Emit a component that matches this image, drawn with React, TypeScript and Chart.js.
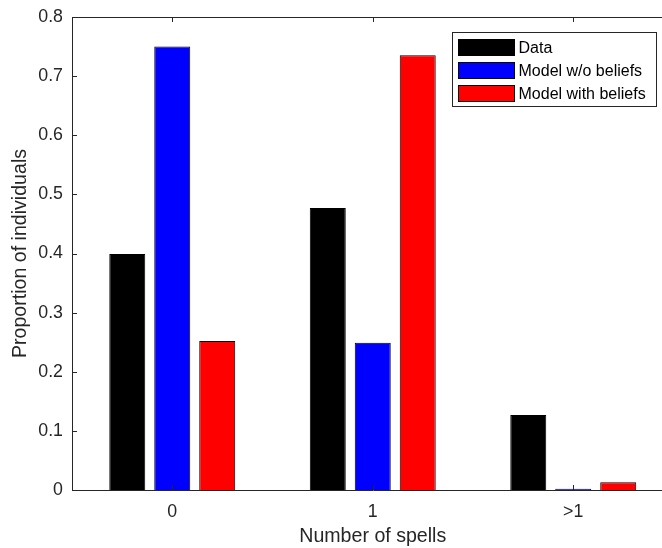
import React, { useEffect, useRef } from "react";
import { Chart, registerables } from "chart.js";

Chart.register(...registerables);

const categories = ["0", "1", ">1"];
const dataValues = [0.399, 0.477, 0.127];
const modelWithoutBeliefs = [0.75, 0.249, 0.002];
const modelWithBeliefs = [0.252, 0.7355, 0.013];
const seriesLabels = ["Data", "Model w/o beliefs", "Model with beliefs"];
const seriesColors = ["#000000", "#0000ff", "#ff0000"];
const yTicks = [0, 0.1, 0.2, 0.3, 0.4, 0.5, 0.6, 0.7, 0.8];

const AXIS = "#262626";
const FONT = "'Liberation Sans', Arial, Helvetica, sans-serif";

const boxPlugin = {
  id: "matlabBox",
  afterDatasetsDraw(chart: any) {
    const { ctx, chartArea, scales } = chart;
    const { left, right, top, bottom } = chartArea;
    ctx.save();
    ctx.strokeStyle = AXIS;
    ctx.lineWidth = 1;
    // box
    ctx.beginPath();
    ctx.rect(Math.round(left) + 0.5, Math.round(top) + 0.5, Math.round(right - left), Math.round(bottom - top));
    ctx.stroke();
    // inward ticks
    const tl = 5;
    ctx.beginPath();
    yTicks.forEach((v) => {
      const y = Math.round(scales.y.getPixelForValue(v)) + 0.5;
      ctx.moveTo(left, y);
      ctx.lineTo(left + tl, y);
      ctx.moveTo(right, y);
      ctx.lineTo(right - tl, y);
    });
    categories.forEach((_, i) => {
      const x = Math.round(scales.x.getPixelForValue(i)) + 0.5;
      ctx.moveTo(x, bottom);
      ctx.lineTo(x, bottom - tl);
      ctx.moveTo(x, top);
      ctx.lineTo(x, top + tl);
    });
    ctx.stroke();

    // legend
    const bx = Math.round(right - 221.5) + 0.5;
    const by = Math.round(top + 15) + 0.5;
    const bw = 204;
    const bh = 74;
    ctx.fillStyle = "#ffffff";
    ctx.fillRect(bx, by, bw, bh);
    ctx.strokeStyle = AXIS;
    ctx.strokeRect(bx, by, bw, bh);
    ctx.font = `16px ${FONT}`;
    ctx.textBaseline = "middle";
    ctx.textAlign = "left";
    chart.data.datasets.forEach((ds: any, i: number) => {
      const cy = by + 15 + i * 23;
      ctx.fillStyle = ds.backgroundColor;
      ctx.fillRect(bx + 6, cy - 8, 56, 16);
      ctx.strokeStyle = "#000000";
      ctx.strokeRect(bx + 6, cy - 8, 56, 16);
      ctx.fillStyle = "#000000";
      ctx.fillText(ds.label, bx + 66, cy + 1);
    });
    ctx.restore();
  },
};

export default function App() {
  const ref = useRef<HTMLCanvasElement | null>(null);

  useEffect(() => {
    if (!ref.current) return;
    const series = [dataValues, modelWithoutBeliefs, modelWithBeliefs];
    const chart = new Chart(ref.current, {
      type: "bar",
      data: {
        labels: categories,
        datasets: series.map((vals, i) => ({
          label: seriesLabels[i],
          data: vals,
          backgroundColor: seriesColors[i],
          borderColor: "#000000",
          borderWidth: 1,
          categoryPercentage: 0.673,
          barPercentage: 0.8,
        })),
      },
      options: {
        responsive: false,
        animation: false,
        devicePixelRatio: 1,
        layout: { padding: { top: 17, right: 2.5, left: 0, bottom: 0 } },
        plugins: {
          legend: { display: false },
          tooltip: { enabled: false },
        },
        scales: {
          x: {
            offset: true,
            grid: { display: false, drawTicks: false },
            border: { display: false },
            ticks: {
              color: AXIS,
              padding: 11,
              font: { family: FONT, size: 17.8 },
            },
            title: {
              display: true,
              text: "Number of spells",
              color: AXIS,
              padding: { top: 0, bottom: 0 },
              font: { family: FONT, size: 19.6 },
            },
            afterFit(scale: any) {
              scale.height = 58;
              scale.paddingLeft = 0;
              scale.paddingRight = 0;
            },
          },
          y: {
            min: 0,
            max: 0.8,
            grid: { display: false, drawTicks: false },
            border: { display: false },
            afterBuildTicks(scale: any) {
              scale.ticks = yTicks.map((v) => ({ value: v }));
            },
            ticks: {
              color: AXIS,
              padding: 9,
              font: { family: FONT, size: 17.8 },
              callback: (v: any) => String(Math.round(Number(v) * 10) / 10),
            },
            title: {
              display: true,
              text: "Proportion of individuals",
              color: AXIS,
              padding: { top: 9, bottom: 0 },
              font: { family: FONT, size: 19.6 },
            },
            afterFit(scale: any) {
              scale.width = 72;
              scale.paddingTop = 0;
              scale.paddingBottom = 0;
            },
          },
        },
      },
      plugins: [boxPlugin],
    });
    return () => chart.destroy();
  }, []);

  return (
    <div
      style={{
        position: "fixed",
        left: 0,
        top: 0,
        width: 662,
        height: 548,
        overflow: "hidden",
        background: "#ffffff",
      }}
    >
      <canvas ref={ref} width={676} height={548} style={{ display: "block" }} />
    </div>
  );
}
